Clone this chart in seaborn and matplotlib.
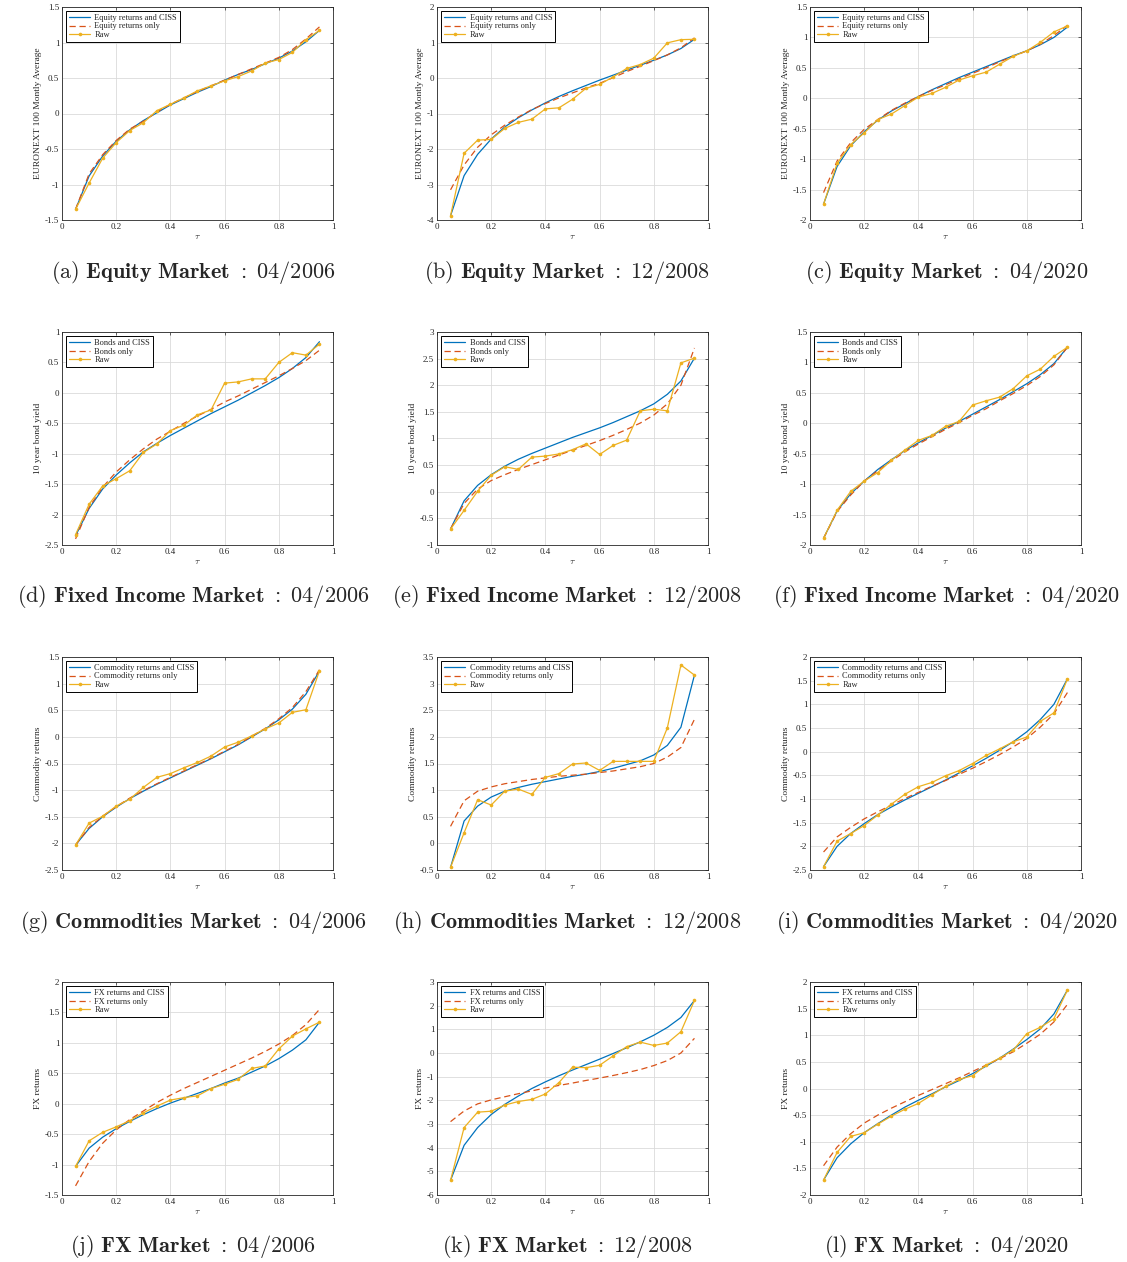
import numpy as np
import pandas as pd
import matplotlib
matplotlib.use("Agg")
import matplotlib.pyplot as plt
import seaborn as sns
from matplotlib.ticker import MultipleLocator, FormatStrFormatter

# Quantile levels
tau = [0.05, 0.10, 0.15, 0.20, 0.25, 0.30, 0.35, 0.40, 0.45, 0.50,
       0.55, 0.60, 0.65, 0.70, 0.75, 0.80, 0.85, 0.90, 0.95]

# ---- Equity market ----
eq06_ciss = [-1.35, -0.88, -0.60, -0.39, -0.23, -0.10, 0.01, 0.12, 0.21, 0.30, 0.38, 0.47, 0.55, 0.62, 0.70, 0.78, 0.88, 1.01, 1.17]
eq06_only = [-1.35, -0.85, -0.58, -0.38, -0.22, -0.11, 0.02, 0.13, 0.22, 0.31, 0.39, 0.47, 0.55, 0.63, 0.71, 0.79, 0.90, 1.05, 1.22]
eq06_raw = [-1.35, -0.98, -0.63, -0.41, -0.24, -0.13, 0.04, 0.13, 0.22, 0.32, 0.39, 0.46, 0.52, 0.60, 0.71, 0.76, 0.86, 1.04, 1.17]

eq08_ciss = [-3.88, -2.75, -2.15, -1.72, -1.38, -1.12, -0.90, -0.70, -0.52, -0.36, -0.21, -0.06, 0.08, 0.22, 0.36, 0.50, 0.65, 0.83, 1.09]
eq08_only = [-3.15, -2.45, -1.95, -1.60, -1.33, -1.10, -0.89, -0.72, -0.56, -0.42, -0.28, -0.15, 0.01, 0.18, 0.33, 0.49, 0.65, 0.85, 1.13]
eq08_raw = [-3.88, -2.12, -1.75, -1.73, -1.42, -1.25, -1.16, -0.87, -0.84, -0.60, -0.29, -0.18, 0.03, 0.27, 0.38, 0.56, 0.99, 1.08, 1.09]

eq20_ciss = [-1.74, -1.12, -0.78, -0.55, -0.36, -0.21, -0.09, 0.03, 0.14, 0.24, 0.34, 0.43, 0.52, 0.61, 0.70, 0.78, 0.88, 1.00, 1.17]
eq20_only = [-1.55, -1.03, -0.73, -0.51, -0.35, -0.20, -0.08, 0.03, 0.13, 0.22, 0.32, 0.41, 0.50, 0.60, 0.69, 0.78, 0.89, 1.03, 1.20]
eq20_raw = [-1.74, -1.07, -0.76, -0.57, -0.35, -0.26, -0.12, 0.02, 0.08, 0.18, 0.30, 0.37, 0.43, 0.56, 0.69, 0.78, 0.92, 1.09, 1.19]

# ---- Fixed income market ----
fi06_ciss = [-2.35, -1.90, -1.58, -1.35, -1.15, -0.97, -0.83, -0.70, -0.58, -0.46, -0.34, -0.23, -0.12, 0.00, 0.12, 0.25, 0.40, 0.58, 0.84]
fi06_only = [-2.40, -1.88, -1.55, -1.30, -1.10, -0.92, -0.76, -0.63, -0.50, -0.38, -0.27, -0.15, -0.05, 0.06, 0.17, 0.28, 0.40, 0.53, 0.70]
fi06_raw = [-2.33, -1.83, -1.53, -1.41, -1.28, -0.98, -0.84, -0.62, -0.53, -0.36, -0.28, 0.16, 0.18, 0.23, 0.23, 0.50, 0.66, 0.62, 0.80]

fi08_ciss = [-0.70, -0.17, 0.12, 0.32, 0.48, 0.61, 0.72, 0.82, 0.92, 1.02, 1.11, 1.20, 1.30, 1.41, 1.52, 1.65, 1.83, 2.08, 2.51]
fi08_only = [-0.70, -0.22, 0.05, 0.21, 0.32, 0.42, 0.51, 0.60, 0.69, 0.78, 0.87, 0.96, 1.06, 1.17, 1.29, 1.44, 1.65, 2.00, 2.70]
fi08_raw = [-0.70, -0.35, 0.01, 0.31, 0.47, 0.42, 0.65, 0.67, 0.71, 0.79, 0.90, 0.70, 0.87, 0.97, 1.52, 1.55, 1.52, 2.42, 2.51]

fi20_ciss = [-1.89, -1.44, -1.16, -0.95, -0.76, -0.60, -0.45, -0.32, -0.20, -0.08, 0.03, 0.15, 0.27, 0.39, 0.52, 0.65, 0.80, 0.98, 1.25]
fi20_only = [-1.89, -1.45, -1.18, -0.95, -0.78, -0.62, -0.47, -0.34, -0.22, -0.10, 0.01, 0.13, 0.24, 0.37, 0.49, 0.62, 0.77, 0.96, 1.25]
fi20_raw = [-1.89, -1.43, -1.12, -0.95, -0.81, -0.61, -0.44, -0.28, -0.20, -0.05, 0.03, 0.30, 0.37, 0.43, 0.57, 0.78, 0.89, 1.10, 1.25]

# ---- Commodities market ----
co06_ciss = [-2.03, -1.72, -1.50, -1.32, -1.16, -1.02, -0.89, -0.77, -0.65, -0.53, -0.41, -0.28, -0.15, 0.00, 0.15, 0.32, 0.52, 0.80, 1.24]
co06_only = [-2.03, -1.70, -1.49, -1.31, -1.15, -1.01, -0.88, -0.76, -0.64, -0.52, -0.40, -0.27, -0.14, 0.01, 0.16, 0.34, 0.55, 0.85, 1.26]
co06_raw = [-2.03, -1.62, -1.49, -1.30, -1.17, -0.95, -0.76, -0.69, -0.58, -0.48, -0.36, -0.19, -0.10, 0.02, 0.15, 0.26, 0.46, 0.51, 1.24]

co08_ciss = [-0.45, 0.42, 0.70, 0.87, 0.98, 1.05, 1.11, 1.16, 1.21, 1.26, 1.30, 1.35, 1.41, 1.48, 1.55, 1.66, 1.84, 2.18, 3.16]
co08_only = [0.32, 0.80, 0.98, 1.06, 1.12, 1.16, 1.20, 1.23, 1.26, 1.28, 1.30, 1.33, 1.36, 1.40, 1.44, 1.50, 1.62, 1.80, 2.33]
co08_raw = [-0.45, 0.20, 0.82, 0.72, 0.98, 1.02, 0.92, 1.24, 1.31, 1.49, 1.51, 1.37, 1.54, 1.54, 1.54, 1.54, 2.17, 3.35, 3.16]

co20_ciss = [-2.43, -2.00, -1.73, -1.52, -1.33, -1.17, -1.02, -0.88, -0.74, -0.60, -0.45, -0.30, -0.14, 0.03, 0.21, 0.42, 0.68, 1.00, 1.54]
co20_only = [-2.12, -1.80, -1.60, -1.42, -1.27, -1.13, -0.99, -0.86, -0.73, -0.61, -0.48, -0.35, -0.21, -0.06, 0.10, 0.28, 0.52, 0.80, 1.25]
co20_raw = [-2.43, -1.89, -1.73, -1.56, -1.34, -1.11, -0.90, -0.74, -0.65, -0.51, -0.40, -0.25, -0.08, 0.06, 0.21, 0.31, 0.64, 0.82, 1.54]

# ---- FX market ----
fx06_ciss = [-1.03, -0.73, -0.55, -0.41, -0.29, -0.18, -0.08, 0.01, 0.09, 0.17, 0.25, 0.34, 0.42, 0.52, 0.62, 0.74, 0.88, 1.05, 1.34]
fx06_only = [-1.35, -0.95, -0.65, -0.43, -0.26, -0.12, 0.02, 0.14, 0.25, 0.35, 0.45, 0.55, 0.65, 0.75, 0.86, 0.98, 1.12, 1.30, 1.55]
fx06_raw = [-1.03, -0.61, -0.47, -0.38, -0.28, -0.15, -0.04, 0.06, 0.10, 0.13, 0.25, 0.32, 0.40, 0.58, 0.62, 0.90, 1.11, 1.23, 1.34]

fx08_ciss = [-5.38, -3.90, -3.15, -2.60, -2.17, -1.82, -1.50, -1.22, -0.96, -0.72, -0.49, -0.26, -0.02, 0.22, 0.47, 0.75, 1.08, 1.50, 2.22]
fx08_only = [-2.90, -2.45, -2.15, -1.98, -1.85, -1.72, -1.60, -1.48, -1.37, -1.27, -1.16, -1.06, -0.95, -0.83, -0.70, -0.53, -0.32, 0.00, 0.62]
fx08_raw = [-5.38, -3.15, -2.50, -2.46, -2.20, -2.05, -1.96, -1.73, -1.25, -0.60, -0.62, -0.52, -0.12, 0.27, 0.46, 0.32, 0.42, 0.90, 2.22]

fx20_ciss = [-1.72, -1.30, -1.04, -0.83, -0.66, -0.50, -0.35, -0.22, -0.10, 0.03, 0.15, 0.28, 0.42, 0.57, 0.74, 0.92, 1.12, 1.40, 1.85]
fx20_only = [-1.45, -1.10, -0.85, -0.65, -0.50, -0.37, -0.25, -0.13, -0.02, 0.09, 0.20, 0.32, 0.44, 0.56, 0.69, 0.85, 1.02, 1.25, 1.58]
fx20_raw = [-1.72, -1.20, -0.90, -0.83, -0.67, -0.52, -0.39, -0.28, -0.12, 0.04, 0.17, 0.24, 0.44, 0.57, 0.72, 1.03, 1.15, 1.31, 1.85]

# Row labels: legend names, y-axis label, caption market title
markets = [
    ("Equity returns and CISS", "Equity returns only", "EURONEXT 100 Montly Average", "Equity Market"),
    ("Bonds and CISS", "Bonds only", "10 year bond yield", "Fixed Income Market"),
    ("Commodity returns and CISS", "Commodity returns only", "Commodity returns", "Commodities Market"),
    ("FX returns and CISS", "FX returns only", "FX returns", "FX Market"),
]
dates = ["04/2006", "12/2008", "04/2020"]
letters = "abcdefghijkl"

series = [
    [(eq06_ciss, eq06_only, eq06_raw), (eq08_ciss, eq08_only, eq08_raw), (eq20_ciss, eq20_only, eq20_raw)],
    [(fi06_ciss, fi06_only, fi06_raw), (fi08_ciss, fi08_only, fi08_raw), (fi20_ciss, fi20_only, fi20_raw)],
    [(co06_ciss, co06_only, co06_raw), (co08_ciss, co08_only, co08_raw), (co20_ciss, co20_only, co20_raw)],
    [(fx06_ciss, fx06_only, fx06_raw), (fx08_ciss, fx08_only, fx08_raw), (fx20_ciss, fx20_only, fx20_raw)],
]
ylims = [
    [(-1.5, 1.5, 0.5), (-4, 2, 1), (-2, 1.5, 0.5)],
    [(-2.5, 1, 0.5), (-1, 3, 0.5), (-2, 1.5, 0.5)],
    [(-2.5, 1.5, 0.5), (-0.5, 3.5, 0.5), (-2.5, 2, 0.5)],
    [(-1.5, 2, 0.5), (-6, 3, 1), (-2, 2, 0.5)],
]

sns.set_style("white")
plt.rcParams["font.family"] = ["Liberation Serif", "DejaVu Serif"]
plt.rcParams["mathtext.fontset"] = "cm"
plt.rcParams["axes.unicode_minus"] = False

BLUE, RED, ORANGE = "#0072BD", "#D95319", "#EDB120"

W, H = 1127, 1262
fig = plt.figure(figsize=(W / 100, H / 100), dpi=100)

col_left = [62, 437, 810]
row_top = [7, 332, 657, 982]
ax_w, ax_h = 271, 213
cap_x = [193, 567, 947]
cap_y = [272, 597, 922, 1247]

for r in range(4):
    lab_ciss, lab_only, ylab, mname = markets[r]
    for c in range(3):
        ax = fig.add_axes([col_left[c] / W, 1 - (row_top[r] + ax_h) / H, ax_w / W, ax_h / H])
        ciss, only, raw = series[r][c]
        df = pd.DataFrame({"tau": tau, "ciss": ciss, "only": only, "raw": raw})
        sns.lineplot(data=df, x="tau", y="ciss", ax=ax, color=BLUE, lw=0.9, label=lab_ciss)
        sns.lineplot(data=df, x="tau", y="only", ax=ax, color=RED, lw=0.9, linestyle=(0, (5, 3)), label=lab_only)
        sns.lineplot(data=df, x="tau", y="raw", ax=ax, color=ORANGE, lw=0.9, marker="o",
                     markersize=2.6, markeredgewidth=0, label="Raw")
        lo, hi, step = ylims[r][c]
        ax.set_xlim(0, 1)
        ax.set_ylim(lo, hi)
        ax.xaxis.set_major_locator(MultipleLocator(0.2))
        ax.yaxis.set_major_locator(MultipleLocator(step))
        ax.xaxis.set_major_formatter(FormatStrFormatter("%g"))
        ax.yaxis.set_major_formatter(FormatStrFormatter("%g"))
        ax.grid(True, color="#DADADA", lw=0.6)
        ax.tick_params(direction="in", length=2.5, width=0.5, labelsize=6.5,
                       top=True, right=True, pad=2, colors="#262626")
        for s in ax.spines.values():
            s.set_color("#262626")
            s.set_linewidth(0.6)
        ax.set_xlabel(r"$\tau$", fontsize=7, labelpad=1)
        ax.set_ylabel(ylab, fontsize=6.8, labelpad=2)
        leg = ax.legend(loc="upper left", fontsize=6, frameon=True, fancybox=False,
                        edgecolor="black", framealpha=1, borderpad=0.3, labelspacing=0.1,
                        handlelength=2.6, handletextpad=0.5, borderaxespad=0.5)
        leg.get_frame().set_linewidth(0.7)
        idx = r * 3 + c
        caption = (r"$\mathrm{(" + letters[idx] + r")}\ \mathbf{" + mname.replace(" ", r"\ ")
                   + r"}\ \mathbf{:}\ \mathrm{" + dates[c] + r"}$")
        fig.text(cap_x[c] / W, 1 - cap_y[r] / H, caption, ha="center", va="center", fontsize=16)

fig.savefig("out.png", dpi=100)
